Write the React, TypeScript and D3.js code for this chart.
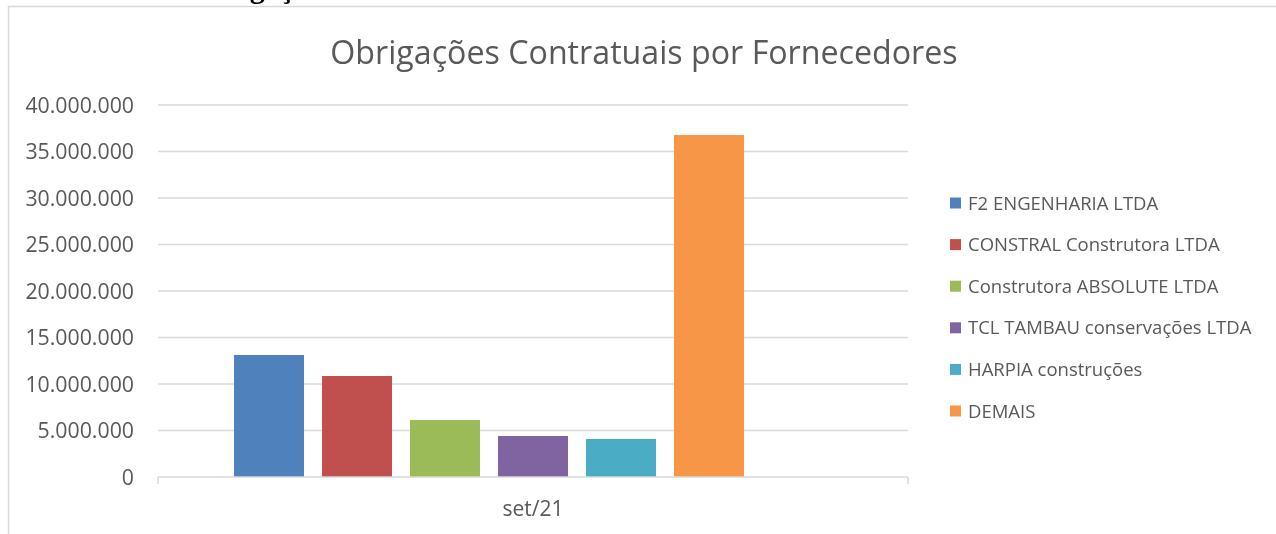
import * as d3 from "d3";
import { useEffect, useRef } from "react";

const categories = ["set/21"];
const fornecedores = [
  "F2 ENGENHARIA LTDA",
  "CONSTRAL Construtora LTDA",
  "Construtora ABSOLUTE LTDA",
  "TCL TAMBAU conservações LTDA",
  "HARPIA construções",
  "DEMAIS",
];
// a 7th empty slot exists in the original cluster (no legend entry)
const slots = [...fornecedores, ""];
const valores = [13120000, 10860000, 6130000, 4410000, 4090000, 36770000];
const cores = ["#4F81BD", "#C0504D", "#9BBB59", "#8064A2", "#4BACC6", "#F79646"];
const yTicks = [0, 5000000, 10000000, 15000000, 20000000, 25000000, 30000000, 35000000, 40000000];

const W = 1276;
const H = 534;
const FONT = "'Open Sans', 'Noto Sans', sans-serif";
const TXT = "#595959";
const GRID = "#D9D9D9";

const App = () => {
  const svgRef = useRef<SVGSVGElement>(null);

  useEffect(() => {
    const svg = d3.select(svgRef.current);
    svg.selectAll("*").remove();

    // moldura do gráfico
    svg.append("rect")
      .attr("x", 8.5).attr("y", 6.5)
      .attr("width", W + 20).attr("height", H + 20)
      .attr("fill", "#fff").attr("stroke", GRID).attr("stroke-width", 1.5);

    // cabeçalho cortado acima do gráfico (só as descendentes aparecem)
    svg.append("text")
      .attr("x", 188).attr("y", -2)
      .attr("font-family", "'Liberation Serif', serif")
      .attr("font-weight", "bold").attr("font-size", 30)
      .attr("fill", "#000")
      .text("Obrigações");

    const y = d3.scaleLinear().domain([0, 40000000]).range([477, 105]);
    const x0 = d3.scaleBand().domain(categories).range([158, 908]);
    const x1 = d3.scaleBand().domain(slots).range([0, x0.bandwidth()])
      .paddingInner(18 / 88).paddingOuter(0.864);

    const fmt = (v: number) => d3.format(",")(v).replace(/,/g, ".");

    // grade
    svg.append("g").selectAll("line")
      .data(yTicks.filter((t) => t > 0))
      .enter().append("line")
      .attr("x1", 158).attr("x2", 908)
      .attr("y1", (d) => y(d)).attr("y2", (d) => y(d))
      .attr("stroke", GRID).attr("stroke-width", 1.5);

    // rótulos do eixo y
    svg.append("g").selectAll("text")
      .data(yTicks)
      .enter().append("text")
      .attr("x", 134).attr("y", (d) => y(d)).attr("dy", "0.36em")
      .attr("text-anchor", "end")
      .attr("font-family", FONT).attr("font-size", 21.3).attr("fill", TXT)
      .text(fmt);

    // barras
    const grp = svg.append("g").selectAll("g")
      .data(categories).enter().append("g")
      .attr("transform", (c) => `translate(${x0(c)},0)`);
    grp.selectAll("rect")
      .data(valores.map((v, i) => ({ v, i })))
      .enter().append("rect")
      .attr("x", (d) => x1(fornecedores[d.i]) as number)
      .attr("width", x1.bandwidth())
      .attr("y", (d) => y(d.v))
      .attr("height", (d) => y(0) - y(d.v))
      .attr("fill", (d) => cores[d.i]);

    // eixo x
    const ax = svg.append("g");
    ax.append("line")
      .attr("x1", 158).attr("x2", 908).attr("y1", y(0)).attr("y2", y(0))
      .attr("stroke", GRID).attr("stroke-width", 1.5);
    [158, 908].forEach((xx) => {
      ax.append("line")
        .attr("x1", xx).attr("x2", xx).attr("y1", y(0)).attr("y2", y(0) + 7)
        .attr("stroke", GRID).attr("stroke-width", 1.5);
    });
    ax.selectAll("text.cat")
      .data(categories).enter().append("text")
      .attr("x", (c) => (x0(c) as number) + x0.bandwidth() / 2)
      .attr("y", 516)
      .attr("text-anchor", "middle")
      .attr("font-family", FONT).attr("font-size", 21).attr("fill", TXT)
      .text((c) => c);

    // título
    svg.append("text")
      .attr("x", 644).attr("y", 64)
      .attr("text-anchor", "middle")
      .attr("font-family", FONT).attr("font-size", 32.2).attr("fill", TXT)
      .text("Obrigações Contratuais por Fornecedores");

    // legenda
    const leg = svg.append("g").selectAll("g")
      .data(fornecedores).enter().append("g")
      .attr("transform", (_, i) => `translate(950,${203 + i * 41.6})`);
    leg.append("rect")
      .attr("x", 0).attr("y", -5.5).attr("width", 11).attr("height", 11)
      .attr("fill", (_, i) => cores[i]);
    leg.append("text")
      .attr("x", 18).attr("dy", "0.36em")
      .attr("font-family", FONT).attr("font-size", 18.5).attr("fill", TXT)
      .text((d) => d);
  }, []);

  return (
    <div style={{ position: "fixed", left: 0, top: 0 }}>
      <svg ref={svgRef} width={W} height={H} style={{ display: "block" }}></svg>
    </div>
  );
};

export default App;
